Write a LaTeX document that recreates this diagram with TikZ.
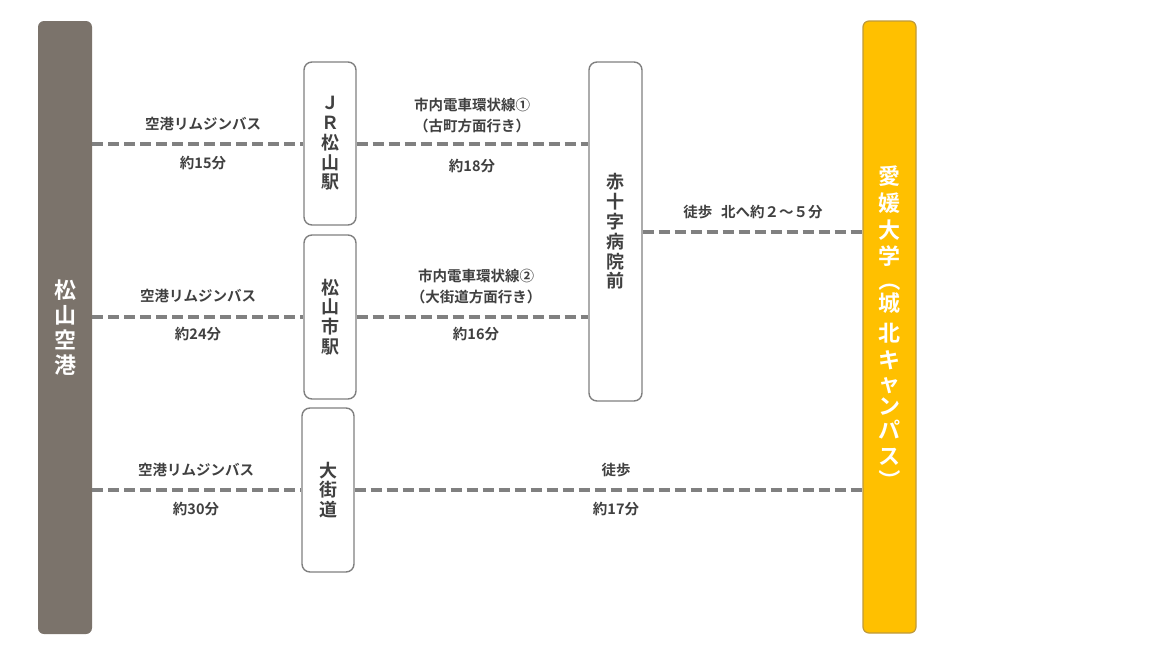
\documentclass[tikz,border=0pt]{standalone}
\usepackage{fontspec}
\setmainfont{Noto Sans CJK JP}[BoldFont={Noto Sans CJK JP Bold}]
\definecolor{airportc}{HTML}{7B736B}
\definecolor{univc}{HTML}{FFC000}
\definecolor{univb}{HTML}{BF9A3A}
\definecolor{boxb}{HTML}{808080}
\definecolor{txtc}{HTML}{404040}
\definecolor{linec}{HTML}{808080}
\newcommand{\vparopen}{\smash{\rotatebox[origin=c]{-90}{（}}}
\newcommand{\vparclose}{\smash{\rotatebox[origin=c]{-90}{）}}}
\tikzset{
  bar/.style={rounded corners=6pt, inner sep=0pt, align=center, text=white,
    font=\bfseries\fontsize{22}{25}\selectfont},
  stationbox/.style={draw=boxb, line width=1.4pt, fill=white, rounded corners=8pt,
    inner sep=0pt, minimum width=52pt, align=center, text=txtc,
    font=\bfseries\fontsize{18}{19.8}\selectfont},
  lbl/.style={text=txtc, inner sep=0pt, align=center,
    font=\bfseries\fontsize{14.5}{21}\selectfont},
  dashline/.style={draw=linec, line width=4pt, dash pattern=on 11pt off 5pt}
}
\begin{document}
\begin{tikzpicture}[x=1pt,y=-1pt]
\useasboundingbox (0,0) rectangle (1152,648);
% main bars
\node[bar, fill=airportc, minimum width=54pt, minimum height=613pt] (airport) at (65,327.5)
  {松\\山\\空\\港};
\node[bar, fill=univc, draw=univb, line width=1.2pt, minimum width=53pt, minimum height=612pt,
  font=\bfseries\fontsize{22}{22}\selectfont] (univ) at (889.5,327)
  {愛\\[5pt]媛\\[5pt]大\\[4pt]学\\[2.6pt]\vparopen\\[0.4pt]城\\[8pt]北\\[5pt]キ\\[1pt]ャ\\[1pt]ン\\[2pt]パ\\[4pt]ス\\[2.5pt]\vparclose};
% stations
\node[stationbox, minimum height=163pt] (jr) at (330,143.5) {Ｊ\\Ｒ\\松\\山\\駅};
\node[stationbox, minimum height=164pt] (shieki) at (330,317) {松\\山\\市\\駅};
\node[stationbox, minimum height=164pt] (okaido) at (328,490) {大\\街\\道};
\node[stationbox, minimum width=53pt, minimum height=339pt] (sekijuji) at (615.5,231.5)
  {赤\\十\\字\\病\\院\\前};
% connectors
\draw[dashline] (airport.east |- jr.west) -- (jr.west);
\draw[dashline] (jr.east) -- (sekijuji.west |- jr.east);
\draw[dashline] (airport.east |- shieki.west) -- (shieki.west);
\draw[dashline] (shieki.east) -- (sekijuji.west |- shieki.east);
\draw[dashline] (airport.east |- okaido.west) -- (okaido.west);
\draw[dashline] (okaido.east) -- (univ.west |- okaido.east);
\draw[dashline] (sekijuji.east) -- (univ.west |- sekijuji.east);
% labels
\node[lbl] (l1a) at (203,124) {空港リムジンバス};
\node[lbl] (l1b) at (203,163) {約15分};
\node[lbl] (l2a) at (472,116) {市内電車環状線①\\（古町方面行き）};
\node[lbl] (l2b) at (472,166) {約18分};
\node[lbl] (l3a) at (198,296) {空港リムジンバス};
\node[lbl] (l3b) at (198,334) {約24分};
\node[lbl] (l4a) at (476,286.5) {市内電車環状線②\\（大街道方面行き）};
\node[lbl] (l4b) at (476,334) {約16分};
\node[lbl] (l5a) at (196,470) {空港リムジンバス};
\node[lbl] (l5b) at (196,509) {約30分};
\node[lbl] (l6a) at (616,470) {徒歩};
\node[lbl] (l6b) at (616,509) {約17分};
\node[lbl] (l7a) at (753,212) {徒歩\hspace{0.6em}北へ約２～５分};
\end{tikzpicture}
\end{document}
